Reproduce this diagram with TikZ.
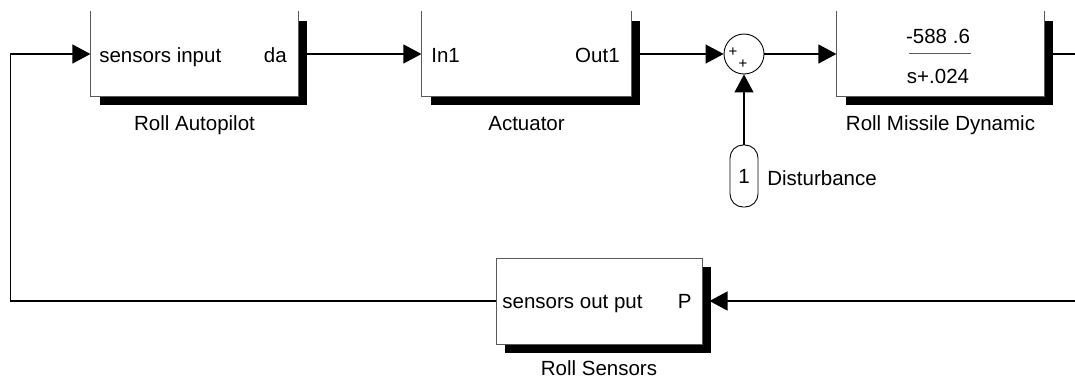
\documentclass[tikz,border=0pt]{standalone}
\usepackage{fontspec}
\setmainfont{Liberation Sans}
\usetikzlibrary{positioning, calc, shadows, arrows.meta}
\newcommand{\openedge}[1]{(#1.north west) -- (#1.south west) -- (#1.south east) -- (#1.north east)}
\tikzset{
    block/.style={rectangle, fill=white, inner sep=0pt, minimum width=207pt, minimum height=84pt,
        drop shadow={shadow xshift=9pt, shadow yshift=-9pt, fill=black, opacity=1}},
    edge/.style={draw=black!65, line width=1pt},
    plus/.style={font=\fontsize{15}{15}\selectfont, inner sep=0pt}
}

\begin{document}
\begin{tikzpicture}[x=1pt, y=-1pt, line width=1.2pt, >={Triangle[length=18pt, width=19pt]},
    font=\fontsize{20.5}{24}\selectfont]
    \useasboundingbox (0,0) rectangle (1075,380);
    \clip (0,0) rectangle (1075,380);

    %Blocks
    \node[block] (pilot) at (194.5, 54) {};
    \node[block, minimum width=209pt] (act) at (526.5, 54) {};
    \node[block] (dyn) at (940.5, 54) {};
    \node[block, edge, minimum width=206pt, minimum height=86pt] (sens) at (599, 301) {};
    \node[circle, draw, line width=0.9pt, minimum size=40pt, inner sep=0pt] (sum) at (744, 54) {};
    \node[draw, line width=0.9pt, rounded corners=13pt, minimum width=28pt, minimum height=62pt, inner sep=0pt] (dist) at (744, 176) {1};

    \draw[edge] \openedge{pilot};
    \draw[edge] \openedge{act};
    \draw[edge] \openedge{dyn};

    %Ports
    \node[anchor=base west] (pilot_in) at ($(pilot.west)+(5,8)$) {sensors input};
    \node[anchor=base east] (pilot_out) at ($(pilot.east)+(-8,8)$) {da};
    \node[anchor=base west] (act_in) at ($(act.west)+(6,8)$) {In1};
    \node[anchor=base east] (act_out) at ($(act.east)+(-8,8)$) {Out1};
    \node[anchor=base west] (sens_out) at ($(sens.west)+(3,7)$) {sensors out put};
    \node[anchor=base east] (sens_in) at ($(sens.east)+(-7,7)$) {P};
    \node[plus] (plus1) at (733, 52) {+};
    \node[plus] (plus2) at (743, 64) {+};

    %Transfer function
    \node[anchor=base] (num) at ($(dyn)+(-2.5,-11)$) {-588 .6};
    \node[anchor=base] (den) at ($(dyn)+(-2.5,29)$) {s+.024};
    \draw[edge] ($(dyn)+(-31.5,-1)$) -- ($(dyn)+(30.5,-1)$);

    %Labels
    \node[anchor=base] (pilot_lbl) at ($(pilot.south)+(0,34)$) {Roll Autopilot};
    \node[anchor=base] (act_lbl) at ($(act.south)+(0,34)$) {Actuator};
    \node[anchor=base] (dyn_lbl) at ($(dyn.south)+(0,34)$) {Roll Missile Dynamic};
    \node[anchor=base] (sens_lbl) at ($(sens.south)+(0,31)$) {Roll Sensors};
    \node[anchor=base west] (dist_lbl) at ($(dist.east)+(5,9)$) {Disturbance};

    %Lines
    \draw[->] (pilot.east) -- (act.west);
    \draw[->] (act.east) -- (sum.west);
    \draw[->] (sum.east) -- (dyn.west);
    \draw[->] (dist.north) -- (sum.south);
    \draw[->] (dyn.east) -- ++(45,0) |- ([xshift=7pt]sens.east);
    \draw[->] (sens.west) -- ++(-485,0) |- (pilot.west);
\end{tikzpicture}
\end{document}
